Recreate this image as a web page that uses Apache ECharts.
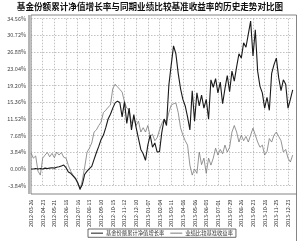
<!DOCTYPE html>
<html><head><meta charset="utf-8">
<script src="https://cdn.jsdelivr.net/npm/echarts@6/dist/echarts.min.js"></script>
<style>html,body{margin:0;padding:0;background:#fff}#c{width:300px;height:241px}</style>
</head><body><div id="c"></div>
<script>
const tickLabels = ['2012-03-26','2012-04-23','2012-05-21','2012-06-18','2012-07-16','2012-08-13','2012-09-10','2012-10-15','2012-11-12','2012-12-10','2013-01-07','2013-02-04','2013-03-11','2013-04-08','2013-05-06','2013-06-03','2013-07-01','2013-07-29','2013-08-26','2013-09-23','2013-10-28','2013-11-25','2013-12-23'];
const fundValues = [0,0,0.1,0,0.1,0,0.2,0.1,0.2,0.3,0.2,0.4,0.5,0.7,0.9,0.3,-0.7,-1.0,-1.6,-2.2,-3.2,-4.6,-3.5,-1.2,-0.5,0.1,0.6,2.2,3.8,5.2,6.8,7.8,9.5,11.5,12.6,14.0,15.2,15.6,15.3,12.0,15.5,10.5,14.0,9.0,12.5,9.5,7.0,4.5,3.5,2.0,5.5,7.8,5.0,6.0,3.9,4.0,8.5,11.5,10.0,19.3,23.9,28.3,26.5,22.0,18.5,16.0,14.5,12.0,9.0,18.0,11.0,17.5,14.5,17.0,14.0,16.0,11.5,20.5,18.8,20.8,17.5,20.0,15.0,18.5,21.5,17.8,22.5,20.2,23.5,26.5,25.5,29.0,28.0,31.0,34.0,26.0,32.0,22.5,19.0,17.5,14.0,16.5,13.5,22.0,24.0,25.5,21.0,18.0,20.5,19.5,14.0,16.0,18.2];
const benchValues = [3.7,2.5,3.0,-0.5,-1.4,2.5,3.2,3.8,2.8,3.6,2.6,3.9,3.2,3.8,2.7,2.5,0.8,-0.5,-1.4,-2.0,-3.0,-4.8,-2.5,0.5,3.9,4.8,6.0,8.5,9.0,10.0,10.8,13.0,13.5,14.2,14.7,18.5,19.5,18.9,18.3,17.7,15.4,14.0,13.5,10.5,11.7,10.0,11.0,8.5,9.5,8.5,10.0,7.5,8.0,6.5,7.2,9.0,10.5,11.5,10.8,13.0,14.7,15.0,15.2,13.0,9.5,7.8,6.5,5.5,0.9,-1.4,0.0,-1.0,3.9,1.0,2.5,-1.0,2.5,0.9,2.5,4.8,3.2,4.5,3.5,5.5,3.9,5.0,8.5,10.0,8.5,6.2,7.8,6.5,7.5,6.2,7.8,9.4,7.8,6.2,5.0,5.5,3.2,4.0,7.0,6.2,7.8,8.5,7.5,6.5,3.9,4.5,2.5,1.6,3.2];
const seriesNames = ['基金份额累计净值增长率','业绩比较基准收益率'];
const titleText = '基金份额累计净值增长率与同期业绩比较基准收益率的历史走势对比图';

const categories = [];
for (let i = 0; i < fundValues.length; i++) {
  const k = Math.floor(i / 5);
  categories.push(i % 5 === 0 ? tickLabels[k] : tickLabels[k] + '#' + (i % 5));
}
const chart = echarts.init(document.getElementById('c'), null, {renderer:'canvas'});
const FF = '"Noto Sans CJK SC","Noto Sans",sans-serif';
chart.setOption({
  animation:false,
  backgroundColor:'#fff',
  title:{text:titleText,left:'center',top:2,padding:0,textStyle:{fontFamily:FF,fontSize:8.6,fontWeight:'bold',color:'#111'}},
  legend:{data:seriesNames,left:88,top:229,icon:'rect',itemWidth:12,itemHeight:1,itemGap:6,
    borderColor:'#444',borderWidth:0.8,padding:[1.5,3],
    textStyle:{fontFamily:FF,fontSize:5.3,color:'#333',padding:[0,0,0,-2]}},
  grid:{left:31,right:7.3,top:18.7,bottom:55.3,containLabel:false},
  xAxis:{type:'category',data:categories,boundaryGap:false,
    axisLine:{show:false},axisTick:{show:false},
    axisLabel:{interval:4,rotate:90,margin:14,fontSize:5.3,color:'#333',fontFamily:FF},
    splitLine:{show:true,interval:4,lineStyle:{color:'#999',type:[1.5,1.5],width:0.6}}},
  yAxis:{type:'value',min:-3.84,max:34.56,interval:3.84,
    axisLine:{show:false},axisTick:{show:false},
    axisLabel:{margin:5,fontSize:5.5,color:'#444',fontFamily:FF,formatter:v=>v.toFixed(2)+'%'},
    splitLine:{show:true,lineStyle:{color:'#999',type:[1.5,1.5],width:0.6}}},
  series:[
    {name:seriesNames[0],type:'line',data:fundValues,showSymbol:false,clip:false,
      lineStyle:{color:'#1a1a1a',width:1.1},itemStyle:{color:'#1a1a1a'},z:3},
    {name:seriesNames[1],type:'line',data:benchValues,showSymbol:false,clip:false,
      lineStyle:{color:'#7a7a7a',width:0.8},itemStyle:{color:'#7a7a7a'},z:2}
  ],
  graphic:[
    {type:'rect',shape:{x:31,y:15,width:265.5,height:179},style:{fill:'none',stroke:'#666',lineWidth:0.8},silent:true},
    {type:'line',shape:{x1:29,y1:15,x2:29,y2:194},style:{stroke:'#444',lineWidth:0.8},silent:true},
    {type:'line',shape:{x1:296.5,y1:194,x2:296.5,y2:241},style:{stroke:'#666',lineWidth:0.8},silent:true}
  ]
});
</script></body></html>
